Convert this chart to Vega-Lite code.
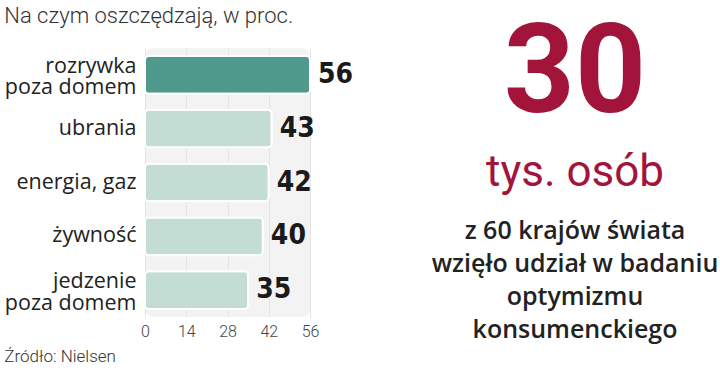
{
  "$schema": "https://vega.github.io/schema/vega-lite/v6.json",
  "padding": {"left": 4, "top": 5, "right": 0, "bottom": 2},
  "background": "white",
  "title": {"text": "Źródło: Nielsen", "orient": "bottom", "anchor": "start", "font": "Roboto", "fontWeight": 300, "fontSize": 17, "color": "#333", "offset": 6, "frame": "bounds"},
  "config": {"concat": {"spacing": 77}, "view": {"stroke": null}},
  "hconcat": [
    {
      "width": 165,
      "height": 269,
      "view": {"fill": "#f3f3f3", "stroke": null, "cornerRadius": 8},
      "title": {"text": "Na czym oszczędzają, w proc.", "anchor": "start", "frame": "bounds", "font": "Roboto", "fontWeight": 300, "fontSize": 22, "color": "#333", "offset": 20},
      "data": {"values": [
        {"kategoria": "rozrywka|poza domem", "proc": 56, "wyr": "tak"},
        {"kategoria": "ubrania", "proc": 43, "wyr": "nie"},
        {"kategoria": "energia, gaz", "proc": 42, "wyr": "nie"},
        {"kategoria": "żywność", "proc": 40, "wyr": "nie"},
        {"kategoria": "jedzenie|poza domem", "proc": 35, "wyr": "nie"}
      ]},
      "encoding": {
        "y": {"field": "kategoria", "type": "nominal", "sort": null, "title": null,
          "scale": {"paddingInner": 0.3, "paddingOuter": 0.15},
          "axis": {"domain": false, "ticks": false, "labelPadding": 9, "labelFont": "Open Sans", "labelFontSize": 21.5, "labelColor": "#222", "labelLineHeight": 21.5,
            "labelOffset": {"condition": {"test": "indexof(datum.value, '|') >= 0", "value": -8}, "value": 0},
            "labelExpr": "split(datum.label, '|')"}},
        "x": {"field": "proc", "type": "quantitative", "title": null,
          "scale": {"domain": [0, 56], "nice": false},
          "axis": {"values": [0, 14, 28, 42, 56], "domain": false, "ticks": false, "grid": true, "gridColor": "#e4e4e4", "gridWidth": 1, "labelFont": "Roboto", "labelFontWeight": 300, "labelFontSize": 16, "labelColor": "#444", "labelPadding": 6, "labelFlush": false}}
      },
      "layer": [
        {"mark": {"type": "bar", "cornerRadius": 4, "stroke": "white", "strokeWidth": 2},
         "encoding": {"color": {"field": "wyr", "type": "nominal", "legend": null, "scale": {"domain": ["tak", "nie"], "range": ["#4f9a8d", "#c3dcd4"]}}}},
        {"mark": {"type": "text", "align": "left", "dx": 8, "baseline": "middle", "font": "DejaVu Sans Condensed", "fontWeight": "bold", "fontSize": 28, "color": "#1a1a1a"},
         "encoding": {"text": {"field": "proc", "type": "quantitative"}}}
      ]
    },
    {
      "width": 260,
      "height": 290,
      "data": {"values": [
        {"id": "a", "grupa": "liczba", "tekst": "30"},
        {"id": "b", "grupa": "jednostka", "tekst": "tys. osób"},
        {"id": "c", "grupa": "opis", "tekst": "z 60 krajów świata"},
        {"id": "d", "grupa": "opis", "tekst": "wzięło udział w badaniu"},
        {"id": "e", "grupa": "opis", "tekst": "optymizmu"},
        {"id": "f", "grupa": "opis", "tekst": "konsumenckiego"}
      ]},
      "encoding": {
        "y": {"field": "id", "type": "nominal", "axis": null,
          "scale": {"type": "point", "padding": 0, "domain": ["a", "b", "c", "d", "e", "f"], "range": [125, 290]}},
        "text": {"field": "tekst", "type": "nominal"}
      },
      "layer": [
        {"transform": [{"filter": "datum.grupa == 'liczba'"}],
         "mark": {"type": "text", "align": "center", "baseline": "alphabetic", "dy": -61, "font": "Roboto", "fontWeight": "bold", "fontSize": 124, "color": "#a3143a"}},
        {"transform": [{"filter": "datum.grupa == 'jednostka'"}],
         "mark": {"type": "text", "align": "center", "baseline": "alphabetic", "dy": -20, "font": "Roboto", "fontSize": 44, "color": "#a3143a"}},
        {"transform": [{"filter": "datum.grupa == 'opis'"}],
         "mark": {"type": "text", "align": "center", "baseline": "alphabetic", "font": "Open Sans", "fontWeight": 600, "fontSize": 25, "color": "#222"}}
      ]
    }
  ]
}
